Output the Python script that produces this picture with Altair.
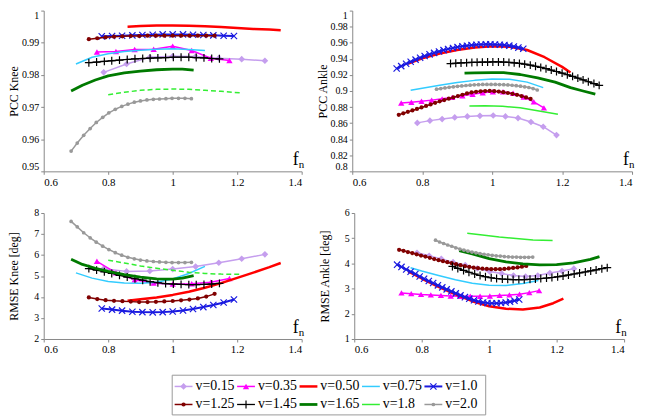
import altair as alt
import pandas as pd

FONT = "Liberation Serif, Times New Roman, serif"

SERIES = ["v=0.15", "v=0.35", "v=0.50", "v=0.75", "v=1.0",
          "v=1.25", "v=1.45", "v=1.65", "v=1.8", "v=2.0"]
COLORS = ["#C59EEE", "#FF00FF", "#FF0000", "#33CCFF", "#1A1AE0",
          "#800000", "#000000", "#007A00", "#33EE33", "#999999"]
LINE_WIDTHS = [1.5, 1.5, 2.5, 1.5, 2.0, 1.5, 1.3, 2.8, 1.5, 1.5]
MARKER_SERIES = ["v=0.15", "v=0.35", "v=1.0", "v=1.25", "v=1.45", "v=2.0"]
X_PATH = "M-1,-1L1,1M-1,1L1,-1"
PLUS_PATH = "M-1,0L1,0M0,-1L0,1"
MARKER_SHAPES = ["diamond", "triangle-up", X_PATH, "circle", PLUS_PATH, "circle"]
MARKER_SIZES = [45, 40, 40, 18, 64, 14]
FILLED_SERIES = ["v=0.15", "v=0.35", "v=1.25", "v=2.0"]

X_TICKS = [0.6, 0.8, 1.0, 1.2, 1.4]
PCC_KNEE_TICKS = [0.95, 0.96, 0.97, 0.98, 0.99, 1.0]
PCC_ANKLE_TICKS = [0.8, 0.82, 0.84, 0.86, 0.88, 0.9, 0.92, 0.94, 0.96, 0.98, 1.0]
RMSE_KNEE_TICKS = [2, 3, 4, 5, 6, 7, 8]
RMSE_ANKLE_TICKS = [1, 2, 3, 4, 5, 6]

LEG_COL = [0, 1, 2, 3, 4, 0, 1, 2, 3, 4]
LEG_ROW = [0, 0, 0, 0, 0, 1, 1, 1, 1, 1]

# ---------------- Knee (x shared by PCC and RMSE) ----------------
KX_015 = [0.786, 0.857, 0.929, 1.0, 1.071, 1.143, 1.214, 1.286]
KP_015 = [0.9808, 0.9834, 0.9855, 0.9858, 0.9857, 0.9852, 0.9849, 0.9844]
KR_015 = [5.35, 5.22, 5.24, 5.33, 5.45, 5.63, 5.82, 6.03]

KX_035 = [0.765, 0.824, 0.882, 0.941, 1.0, 1.059, 1.118, 1.176]
KP_035 = [0.9871, 0.9873, 0.9879, 0.9880, 0.9889, 0.9876, 0.9852, 0.9845]
KR_035 = [5.70, 5.15, 4.82, 4.66, 4.62, 4.63, 4.70, 4.88]

KX_050 = [0.86, 0.9, 0.95, 1.0, 1.05, 1.1, 1.15, 1.2, 1.25, 1.3, 1.335]
KP_050 = [0.9950, 0.9952, 0.9954, 0.9954, 0.9953, 0.9951, 0.9949, 0.9946, 0.9943, 0.9941, 0.9939]
KR_050 = [3.82, 3.89, 3.98, 4.10, 4.25, 4.44, 4.66, 4.91, 5.16, 5.42, 5.62]

KX_075 = [0.70, 0.75, 0.8, 0.85, 0.9, 0.95, 1.0, 1.05, 1.1]
KP_075 = [0.9834, 0.9855, 0.9866, 0.9873, 0.9877, 0.9880, 0.9881, 0.9879, 0.9876]
KR_075 = [5.15, 4.90, 4.74, 4.67, 4.65, 4.70, 4.86, 5.12, 5.46]

KX_100 = [0.78, 0.812, 0.843, 0.875, 0.906, 0.938, 0.969, 1.0, 1.032, 1.063, 1.095, 1.126, 1.158, 1.19]
KP_100 = [0.9920, 0.9921, 0.9922, 0.9923, 0.9924, 0.9925, 0.9926, 0.9926, 0.9926, 0.9925, 0.9924, 0.9923, 0.9922, 0.9921]
KR_100 = [3.45, 3.40, 3.35, 3.30, 3.28, 3.27, 3.28, 3.31, 3.36, 3.43, 3.52, 3.62, 3.74, 3.88]

KX_125 = [0.74, 0.766, 0.792, 0.818, 0.844, 0.87, 0.896, 0.922, 0.948, 0.974, 1.0, 1.026, 1.052, 1.078, 1.104, 1.13]
KP_125 = [0.9911, 0.9914, 0.9917, 0.9919, 0.9920, 0.9921, 0.9921, 0.9922, 0.9922, 0.9922, 0.9922, 0.9922, 0.9922, 0.9922, 0.9922, 0.9922]
KR_125 = [3.98, 3.90, 3.85, 3.82, 3.80, 3.78, 3.76, 3.76, 3.77, 3.79, 3.81, 3.84, 3.88, 3.93, 4.02, 4.15]

KX_145 = [0.74, 0.764, 0.788, 0.811, 0.835, 0.859, 0.883, 0.907, 0.93, 0.954, 0.978, 1.002, 1.026, 1.05, 1.073, 1.097, 1.121, 1.145]
KP_145 = [0.9838, 0.9840, 0.9842, 0.9844, 0.9846, 0.9848, 0.9850, 0.9851, 0.9852, 0.9853, 0.9854, 0.9855, 0.9855, 0.9855, 0.9854, 0.9853, 0.9851, 0.9850]
KR_145 = [5.35, 5.28, 5.20, 5.12, 5.03, 4.95, 4.87, 4.80, 4.73, 4.68, 4.64, 4.62, 4.60, 4.59, 4.59, 4.60, 4.62, 4.65]

KX_165 = [0.685, 0.72, 0.76, 0.8, 0.85, 0.9, 0.95, 1.0, 1.03, 1.065]
KP_165 = [0.9750, 0.9768, 0.9784, 0.9797, 0.9806, 0.9812, 0.9816, 0.9818, 0.9818, 0.9815]
KR_165 = [5.80, 5.55, 5.37, 5.22, 5.07, 4.95, 4.86, 4.85, 4.90, 5.02]

KX_180 = [0.8, 0.85, 0.9, 0.95, 1.0, 1.05, 1.1, 1.15, 1.21]
KP_180 = [0.9738, 0.9746, 0.9752, 0.9755, 0.9756, 0.9755, 0.9752, 0.9749, 0.9744]
KR_180 = [5.75, 5.62, 5.48, 5.37, 5.27, 5.18, 5.12, 5.09, 5.08]

KX_200 = [0.685, 0.704, 0.724, 0.744, 0.763, 0.783, 0.802, 0.822, 0.842, 0.861,
          0.881, 0.9, 0.92, 0.94, 0.959, 0.979, 0.998, 1.018, 1.038, 1.058]
KP_200 = [0.9563, 0.9588, 0.9612, 0.9633, 0.9652, 0.9668, 0.9682, 0.9693, 0.9702, 0.9709,
          0.9715, 0.9719, 0.9722, 0.9724, 0.9725, 0.9726, 0.9727, 0.9727, 0.9727, 0.9726]
KR_200 = [7.60, 7.34, 7.06, 6.82, 6.61, 6.42, 6.26, 6.11, 5.99, 5.89,
          5.82, 5.76, 5.72, 5.69, 5.67, 5.65, 5.64, 5.64, 5.64, 5.65]

# ---------------- Ankle ----------------
APX_015 = [0.786, 0.822, 0.857, 0.893, 0.929, 0.965, 1.003, 1.038, 1.074, 1.111, 1.146, 1.184]
AP_015 = [0.8603, 0.8631, 0.8650, 0.8671, 0.8683, 0.8691, 0.8695, 0.8683, 0.8663, 0.8614, 0.8555, 0.8451]
ARX_015 = [0.786, 0.822, 0.858, 0.893, 0.929, 0.965, 1.001, 1.037, 1.072, 1.108, 1.144, 1.18, 1.216, 1.251]
AR_015 = [4.42, 4.30, 4.18, 4.05, 3.93, 3.80, 3.68, 3.60, 3.52, 3.48, 3.52, 3.62, 3.70, 3.79]

APX_035 = [0.74, 0.769, 0.798, 0.827, 0.857, 0.886, 0.915, 0.944, 0.973, 1.002, 1.031, 1.06, 1.09, 1.119, 1.148]
AP_035 = [0.8850, 0.8860, 0.8872, 0.8886, 0.8902, 0.8920, 0.8940, 0.8960, 0.8978, 0.8990, 0.8990, 0.8972, 0.8925, 0.8865, 0.8790]
AR_035 = [2.83, 2.80, 2.77, 2.75, 2.73, 2.71, 2.70, 2.70, 2.70, 2.71, 2.73, 2.75, 2.78, 2.84, 2.92]

APX_050 = [0.76, 0.8, 0.85, 0.9, 0.95, 1.0, 1.05, 1.1, 1.15, 1.2, 1.224]
AP_050 = [0.9340, 0.9405, 0.9465, 0.9510, 0.9540, 0.9555, 0.9550, 0.9510, 0.9420, 0.9300, 0.9230]
ARX_050 = [0.76, 0.8, 0.85, 0.9, 0.95, 1.0, 1.05, 1.1, 1.15, 1.19, 1.22]
AR_050 = [3.68, 3.40, 3.07, 2.77, 2.50, 2.30, 2.20, 2.17, 2.25, 2.42, 2.60]

APX_075 = [0.767, 0.8, 0.85, 0.9, 0.95, 1.0, 1.05, 1.1, 1.146]
AP_075 = [0.9010, 0.9035, 0.9070, 0.9105, 0.9132, 0.9150, 0.9145, 0.9110, 0.9042]
AR_075 = [3.83, 3.70, 3.52, 3.35, 3.21, 3.13, 3.12, 3.20, 3.32]

APX_100 = [0.727, 0.740, 0.754, 0.767, 0.781, 0.794, 0.807, 0.821, 0.834, 0.848,
           0.861, 0.874, 0.888, 0.901, 0.915, 0.928, 0.941, 0.955, 0.968, 0.982,
           0.995, 1.008, 1.022, 1.035, 1.049, 1.062, 1.075, 1.089]
AP_100 = [0.9280, 0.9309, 0.9338, 0.9364, 0.9390, 0.9413, 0.9435, 0.9456, 0.9474, 0.9492,
          0.9508, 0.9522, 0.9535, 0.9546, 0.9556, 0.9563, 0.9570, 0.9575, 0.9578, 0.9580,
          0.9580, 0.9579, 0.9576, 0.9571, 0.9564, 0.9553, 0.9540, 0.9525]
AR_100 = [3.95, 3.86, 3.76, 3.67, 3.58, 3.48, 3.39, 3.30, 3.22, 3.13,
          3.05, 2.97, 2.89, 2.81, 2.73, 2.66, 2.60, 2.54, 2.49, 2.45,
          2.43, 2.42, 2.42, 2.43, 2.45, 2.48, 2.52, 2.57]

APX_125 = [0.733, 0.746, 0.759, 0.772, 0.785, 0.798, 0.811, 0.824, 0.837, 0.85,
           0.863, 0.876, 0.889, 0.902, 0.915, 0.928, 0.941, 0.954, 0.967, 0.98,
           0.993, 1.006, 1.019, 1.032, 1.045, 1.058, 1.071, 1.084, 1.097, 1.11]
AP_125 = [0.8703, 0.8722, 0.8740, 0.8758, 0.8776, 0.8795, 0.8814, 0.8833, 0.8852, 0.8871,
          0.8887, 0.8904, 0.8920, 0.8937, 0.8953, 0.8969, 0.8982, 0.8990, 0.8996, 0.8999,
          0.9000, 0.8998, 0.8993, 0.8985, 0.8975, 0.8964, 0.8952, 0.8937, 0.8920, 0.8901]
AR_125 = [4.54, 4.50, 4.45, 4.41, 4.36, 4.31, 4.27, 4.22, 4.17, 4.13,
          4.09, 4.05, 4.01, 3.97, 3.93, 3.89, 3.86, 3.83, 3.81, 3.79,
          3.78, 3.77, 3.77, 3.77, 3.78, 3.80, 3.82, 3.84, 3.87, 3.90]

APX_145 = [0.881, 0.896, 0.911, 0.927, 0.942, 0.957, 0.972, 0.987, 1.002, 1.018,
           1.033, 1.048, 1.063, 1.078, 1.093, 1.109, 1.124, 1.139, 1.154, 1.169,
           1.184, 1.2, 1.215, 1.23, 1.245, 1.26, 1.275, 1.291, 1.306]
AP_145 = [0.9341, 0.9345, 0.9349, 0.9352, 0.9355, 0.9357, 0.9359, 0.9360, 0.9361, 0.9361,
          0.9360, 0.9356, 0.9350, 0.9343, 0.9334, 0.9322, 0.9308, 0.9293, 0.9277, 0.9260,
          0.9242, 0.9222, 0.9202, 0.9182, 0.9160, 0.9138, 0.9115, 0.9092, 0.9070]
ARX_145 = [0.891, 0.907, 0.924, 0.940, 0.957, 0.973, 0.989, 1.006, 1.022, 1.039,
           1.055, 1.071, 1.088, 1.104, 1.121, 1.137, 1.153, 1.170, 1.186, 1.203,
           1.219, 1.235, 1.252, 1.268, 1.285, 1.301, 1.317, 1.334, 1.350]
AR_145 = [3.88, 3.80, 3.72, 3.65, 3.58, 3.52, 3.47, 3.43, 3.40, 3.38,
          3.37, 3.36, 3.36, 3.36, 3.37, 3.38, 3.40, 3.42, 3.44, 3.47,
          3.50, 3.54, 3.58, 3.62, 3.66, 3.70, 3.74, 3.79, 3.83]

APX_165 = [0.921, 0.95, 1.0, 1.033, 1.08, 1.13, 1.18, 1.224, 1.26, 1.295]
AP_165 = [0.9222, 0.9225, 0.9228, 0.9228, 0.9205, 0.9162, 0.9110, 0.9042, 0.9000, 0.8962]
ARX_165 = [0.911, 0.95, 1.0, 1.05, 1.1, 1.15, 1.2, 1.25, 1.3, 1.327]
AR_165 = [4.51, 4.38, 4.19, 4.06, 3.98, 3.94, 3.95, 4.02, 4.16, 4.27]

APX_180 = [0.935, 0.98, 1.03, 1.08, 1.13, 1.188]
AP_180 = [0.8814, 0.8815, 0.8810, 0.8790, 0.8755, 0.8710]
AR_180 = [5.20, 5.13, 5.05, 4.99, 4.93, 4.91]

APX_200 = [0.841, 0.853, 0.865, 0.877, 0.889, 0.901, 0.913, 0.925, 0.937, 0.949,
           0.961, 0.973, 0.985, 0.997, 1.009, 1.021, 1.033, 1.045, 1.057, 1.069,
           1.081, 1.093, 1.105, 1.117, 1.129]
AP_200 = [0.9022, 0.9030, 0.9038, 0.9045, 0.9052, 0.9058, 0.9063, 0.9068, 0.9072, 0.9076,
          0.9079, 0.9081, 0.9082, 0.9082, 0.9081, 0.9080, 0.9078, 0.9075, 0.9071, 0.9066,
          0.9060, 0.9052, 0.9043, 0.9030, 0.9012]
AR_200 = [4.92, 4.85, 4.79, 4.73, 4.68, 4.62, 4.57, 4.53, 4.49, 4.45,
          4.42, 4.39, 4.36, 4.34, 4.32, 4.30, 4.29, 4.27, 4.26, 4.25,
          4.25, 4.24, 4.24, 4.24, 4.25]


def long_frame(xs_list, ys_list):
    rows = []
    for s, xs, ys in zip(SERIES, xs_list, ys_list):
        for i, (x, y) in enumerate(zip(xs, ys)):
            rows.append({"series": s, "x": x, "y": y, "i": i})
    return pd.DataFrame(rows)


KNEE_X = [KX_015, KX_035, KX_050, KX_075, KX_100, KX_125, KX_145, KX_165, KX_180, KX_200]
df_pk = long_frame(KNEE_X, [KP_015, KP_035, KP_050, KP_075, KP_100, KP_125, KP_145, KP_165, KP_180, KP_200])
df_rk = long_frame(KNEE_X, [KR_015, KR_035, KR_050, KR_075, KR_100, KR_125, KR_145, KR_165, KR_180, KR_200])
df_pa = long_frame([APX_015, APX_035, APX_050, APX_075, APX_100, APX_125, APX_145, APX_165, APX_180, APX_200],
                   [AP_015, AP_035, AP_050, AP_075, AP_100, AP_125, AP_145, AP_165, AP_180, AP_200])
df_ra = long_frame([ARX_015, APX_035, ARX_050, APX_075, APX_100, APX_125, ARX_145, ARX_165, APX_180, APX_200],
                   [AR_015, AR_035, AR_050, AR_075, AR_100, AR_125, AR_145, AR_165, AR_180, AR_200])


def marker_kwargs(s, c):
    k = MARKER_SERIES.index(s)
    kw = dict(shape=MARKER_SHAPES[k], size=MARKER_SIZES[k], color=c, opacity=1)
    if s in FILLED_SERIES:
        kw["filled"] = True
    else:
        kw["filled"] = False
        kw["strokeWidth"] = 1.2
    return kw


def series_layers(df, xenc, yenc, dashed):
    layers = []
    for s, c, w in zip(SERIES, COLORS, LINE_WIDTHS):
        base = alt.Chart(df).transform_filter(alt.datum.series == s)
        line_kw = dict(color=c, strokeWidth=w, strokeJoin="round")
        if dashed and s == "v=1.8":
            line_kw["strokeDash"] = [5, 3]
        layers.append(base.mark_line(**line_kw).encode(x=xenc, y=yenc, order="i:Q"))
        if s in MARKER_SERIES:
            layers.append(base.mark_point(**marker_kwargs(s, c)).encode(x=xenc, y=yenc))
    return layers


def panel(df, W, H, ydom, yticks, ytitle, dashed, flush):
    xenc = alt.X("x:Q", scale=alt.Scale(domain=[0.6, 1.4], nice=False, zero=False),
                 axis=alt.Axis(values=X_TICKS, format="~g", title=None, labelFontSize=11))
    yenc = alt.Y("y:Q", scale=alt.Scale(domain=ydom, nice=False, zero=False),
                 axis=alt.Axis(values=yticks, format="~g", title=ytitle, labelFlush=flush))
    layers = series_layers(df, xenc, yenc, dashed)
    ftxt = alt.Chart(pd.DataFrame({"t": ["f"]})).mark_text(
        align="right", baseline="alphabetic", font=FONT, fontSize=18, color="black"
    ).encode(x=alt.value(W - 3), y=alt.value(H - 6), text="t:N")
    ntxt = alt.Chart(pd.DataFrame({"t": ["n"]})).mark_text(
        align="left", baseline="alphabetic", font=FONT, fontSize=11, color="black"
    ).encode(x=alt.value(W - 3), y=alt.value(H - 3), text="t:N")
    return alt.layer(*layers, ftxt, ntxt).properties(width=W, height=H)


p1 = panel(df_pk, 260, 162, [0.95, 1.0], PCC_KNEE_TICKS, "PCC Knee", True, True)
p2 = panel(df_pa, 282, 162, [0.8, 1.0], PCC_ANKLE_TICKS, "PCC Ankle", False, True)
p3 = panel(df_rk, 260, 127, [2, 8], RMSE_KNEE_TICKS, "RMSE Knee [deg]", True, False)
p4 = panel(df_ra, 272, 127, [1, 6], RMSE_ANKLE_TICKS, "RMSE Ankle [deg]", False, False)

# ---------------- legend ----------------
leg_df = pd.DataFrame({"series": SERIES, "col": LEG_COL, "row": LEG_ROW})
lx = alt.X("col:Q", scale=alt.Scale(domain=[-0.19, 4.83], nice=False, zero=False), axis=None)
ly = alt.Y("row:Q", scale=alt.Scale(domain=[-0.65, 1.55], nice=False, zero=False, reverse=True), axis=None)
leg_layers = []
for s, c, w in zip(SERIES, COLORS, LINE_WIDTHS):
    base = alt.Chart(leg_df).transform_filter(alt.datum.series == s)
    leg_layers.append(base.mark_point(shape="M-1,0L1,0", filled=False, size=324, opacity=1,
                                      color=c, strokeWidth=w).encode(x=lx, y=ly))
    if s in MARKER_SERIES:
        leg_layers.append(base.mark_point(**marker_kwargs(s, c)).encode(x=lx, y=ly))
leg_text = alt.Chart(leg_df).mark_text(
    align="left", baseline="middle", dx=12, font=FONT, fontSize=14, color="black"
).encode(x=lx, y=ly, text="series:N")
legend = alt.layer(*leg_layers, leg_text).properties(
    width=316, height=40, view=alt.ViewBackground(stroke="#999999", strokeWidth=1))

spacer = alt.Chart(pd.DataFrame({"a": [0]})).mark_point(opacity=0).encode(
    x=alt.value(0), y=alt.value(0)).properties(width=129, height=40)

row1 = alt.hconcat(p1, p2, spacing=51, bounds="flush")
row2 = alt.hconcat(p3, p4, spacing=53, bounds="flush")
plots = alt.vconcat(row1, row2, spacing=21)
legrow = alt.hconcat(spacer, legend, spacing=0, bounds="flush")

chart = alt.vconcat(plots, legrow, spacing=17).properties(
    padding={"left": 0, "top": 0, "right": 2, "bottom": 2}
).configure_view(
    strokeWidth=0
).configure_axis(
    labelFont=FONT, titleFont=FONT, labelFontSize=10, titleFontSize=12,
    titleFontWeight="normal", labelColor="#000000", titleColor="#000000",
    domainColor="#888888", tickColor="#888888", tickSize=3, labelPadding=2,
    grid=False, titlePadding=1
).configure_axisY(
    minExtent=22, maxExtent=22
)

chart.save("out.html", embed_options={"renderer": "svg", "actions": False})
